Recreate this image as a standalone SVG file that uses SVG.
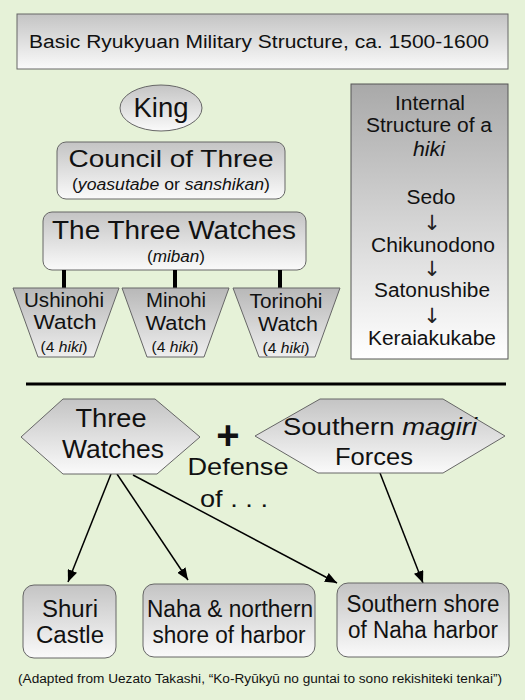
<svg xmlns="http://www.w3.org/2000/svg" width="525" height="700" viewBox="0 0 525 700">
<defs>
<linearGradient id="gDown" x1="0" y1="0" x2="0" y2="1">
<stop offset="0" stop-color="#c4c4c4"/>
<stop offset="1" stop-color="#fafafa"/>
</linearGradient>
<linearGradient id="gBox" x1="0" y1="0" x2="0" y2="1">
<stop offset="0" stop-color="#a9a9a9"/>
<stop offset="1" stop-color="#ffffff"/>
</linearGradient>
<linearGradient id="gTrap" x1="0" y1="0" x2="0" y2="1">
<stop offset="0" stop-color="#b8b8b8"/>
<stop offset="1" stop-color="#eeeeee"/>
</linearGradient>
<marker id="arr" viewBox="0 0 12 10" refX="12" refY="5" markerWidth="12" markerHeight="10" markerUnits="userSpaceOnUse" orient="auto">
<path d="M0,0 L12,5 L0,10 Z" fill="#000"/>
</marker>
</defs>
<style>
text{font-family:"Liberation Sans",Arial,sans-serif;fill:#111;text-anchor:middle}
.shape{fill:url(#gDown);stroke:#666;stroke-width:1}
.trap{fill:url(#gTrap);stroke:#666;stroke-width:1}
.conn{stroke:#000;stroke-width:1.5;fill:none}
.thick{stroke:#000;stroke-width:4}
.it{font-style:italic}
.ar{font-family:"DejaVu Sans",sans-serif;font-size:21px;fill:#222}
</style>
<rect width="525" height="700" fill="#e6f2d8"/>

<g id="title">
<rect x="17" y="14" width="491" height="55" class="shape"/>
<text x="259" y="48" font-size="18" textLength="460" lengthAdjust="spacingAndGlyphs">Basic Ryukyuan Military Structure, ca. 1500-1600</text>
</g>

<g id="king">
<ellipse cx="161" cy="108" rx="41" ry="23" class="shape"/>
<text x="161" y="117" font-size="27" textLength="55" lengthAdjust="spacingAndGlyphs">King</text>
</g>

<g id="council">
<rect x="57" y="142" width="228" height="57" rx="9" class="shape"/>
<text x="171" y="167" font-size="24" textLength="205" lengthAdjust="spacingAndGlyphs">Council of Three</text>
<text x="171" y="190" font-size="16" textLength="198" lengthAdjust="spacingAndGlyphs">(<tspan class="it">yoasutabe</tspan> or <tspan class="it">sanshikan</tspan>)</text>
</g>

<g id="threewatches">
<rect x="43" y="212" width="263" height="58" rx="9" class="shape"/>
<text x="174" y="239" font-size="26" textLength="244" lengthAdjust="spacingAndGlyphs">The Three Watches</text>
<text x="176" y="262" font-size="16" textLength="58" lengthAdjust="spacingAndGlyphs">(<tspan class="it">miban</tspan>)</text>
</g>

<g id="internal">
<rect x="351" y="84" width="157" height="275" fill="url(#gBox)" stroke="#555" stroke-width="1"/>
<text x="430" y="110" font-size="20" textLength="70" lengthAdjust="spacingAndGlyphs">Internal</text>
<text x="429" y="132" font-size="20" textLength="126" lengthAdjust="spacingAndGlyphs">Structure of a</text>
<text x="429" y="156" font-size="20" class="it" textLength="32" lengthAdjust="spacingAndGlyphs">hiki</text>
<text x="431" y="204" font-size="20" textLength="49" lengthAdjust="spacingAndGlyphs">Sedo</text>
<text x="432" y="230" class="ar">↓</text>
<text x="433" y="252" font-size="20" textLength="124" lengthAdjust="spacingAndGlyphs">Chikunodono</text>
<text x="432" y="276" class="ar">↓</text>
<text x="432" y="297" font-size="20" textLength="116" lengthAdjust="spacingAndGlyphs">Satonushibe</text>
<text x="432" y="323" class="ar">↓</text>
<text x="432" y="345" font-size="20" textLength="128" lengthAdjust="spacingAndGlyphs">Keraiakukabe</text>
</g>

<g id="connectors">
<line x1="64" y1="270" x2="64" y2="288" class="thick"/>
<line x1="175" y1="270" x2="175" y2="288" class="thick"/>
<line x1="280" y1="270" x2="280" y2="288" class="thick"/>
<line x1="111" y1="474" x2="68" y2="582" class="conn" marker-end="url(#arr)"/>
<line x1="117" y1="474" x2="188" y2="580" class="conn" marker-end="url(#arr)"/>
<line x1="133" y1="475" x2="337" y2="583" class="conn" marker-end="url(#arr)"/>
<line x1="380" y1="473" x2="423" y2="583" class="conn" marker-end="url(#arr)"/>
</g>

<g id="ushinohi">
<polygon points="13,288 119,288 94,357 38,357" class="trap"/>
<text x="64" y="307" font-size="20" textLength="80" lengthAdjust="spacingAndGlyphs">Ushinohi</text>
<text x="65" y="329" font-size="20" textLength="63" lengthAdjust="spacingAndGlyphs">Watch</text>
<text x="64" y="352" font-size="14" textLength="47" lengthAdjust="spacingAndGlyphs">(4 <tspan class="it">hiki</tspan>)</text>
</g>

<g id="minohi">
<polygon points="122,288 229,288 204,357 147,357" class="trap"/>
<text x="176" y="307" font-size="20" textLength="60" lengthAdjust="spacingAndGlyphs">Minohi</text>
<text x="176" y="330" font-size="20" textLength="61" lengthAdjust="spacingAndGlyphs">Watch</text>
<text x="175" y="352" font-size="14" textLength="47" lengthAdjust="spacingAndGlyphs">(4 <tspan class="it">hiki</tspan>)</text>
</g>

<g id="torinohi">
<polygon points="233,288 340,288 315,357 259,357" class="trap"/>
<text x="286" y="308" font-size="20" textLength="73" lengthAdjust="spacingAndGlyphs">Torinohi</text>
<text x="288" y="331" font-size="20" textLength="60" lengthAdjust="spacingAndGlyphs">Watch</text>
<text x="286" y="353" font-size="14" textLength="47" lengthAdjust="spacingAndGlyphs">(4 <tspan class="it">hiki</tspan>)</text>
</g>

<g id="divider">
<line x1="26" y1="384" x2="506" y2="384" stroke="#000" stroke-width="3"/>
</g>

<g id="hexWatches">
<polygon points="21,437 63,399 155,399 200,437 157,474 63,474" class="shape"/>
<text x="111" y="427" font-size="25" textLength="71" lengthAdjust="spacingAndGlyphs">Three</text>
<text x="113" y="458" font-size="25" textLength="102" lengthAdjust="spacingAndGlyphs">Watches</text>
</g>

<g id="plus">
<text x="228" y="449" font-size="40" font-weight="bold">+</text>
<text x="238" y="475" font-size="24" textLength="101" lengthAdjust="spacingAndGlyphs">Defense</text>
<text x="234" y="507" font-size="24" textLength="68" lengthAdjust="spacingAndGlyphs">of . . .</text>
</g>

<g id="hexSouthern">
<polygon points="255,436 320,399 443,399 505,436 443,473 318,473" class="shape"/>
<text x="380" y="435" font-size="23" textLength="194" lengthAdjust="spacingAndGlyphs">Southern <tspan class="it">magiri</tspan></text>
<text x="374" y="465" font-size="23" textLength="78" lengthAdjust="spacingAndGlyphs">Forces</text>
</g>

<g id="shuri">
<rect x="23" y="585" width="93" height="73" rx="11" class="shape"/>
<text x="70" y="617" font-size="23" textLength="56" lengthAdjust="spacingAndGlyphs">Shuri</text>
<text x="70" y="643" font-size="23" textLength="68" lengthAdjust="spacingAndGlyphs">Castle</text>
</g>

<g id="naha">
<rect x="143" y="584" width="172" height="73" rx="11" class="shape"/>
<text x="230" y="617" font-size="23" textLength="166" lengthAdjust="spacingAndGlyphs">Naha &amp; northern</text>
<text x="229" y="643" font-size="23" textLength="153" lengthAdjust="spacingAndGlyphs">shore of harbor</text>
</g>

<g id="southshore">
<rect x="337" y="583" width="172" height="74" rx="11" class="shape"/>
<text x="423" y="612" font-size="23" textLength="153" lengthAdjust="spacingAndGlyphs">Southern shore</text>
<text x="423" y="638" font-size="23" textLength="150" lengthAdjust="spacingAndGlyphs">of Naha harbor</text>
</g>

<g id="footer">
<text x="260" y="683" font-size="12.5" textLength="484" lengthAdjust="spacingAndGlyphs">(Adapted from Uezato Takashi, “Ko-Ryūkyū no guntai to sono rekishiteki tenkai”)</text>
</g>
</svg>
